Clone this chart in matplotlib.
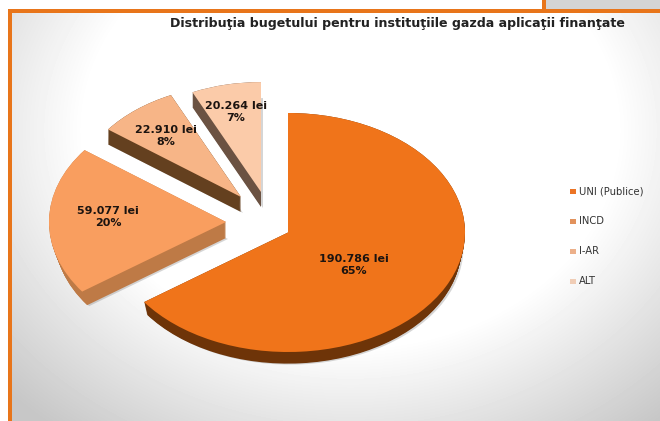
import numpy as np
import matplotlib
matplotlib.use("Agg")
import matplotlib.pyplot as plt
from matplotlib.patches import Rectangle
from matplotlib.transforms import Affine2D

W, H = 660, 421

# date
categories = ["UNI (Publice)", "INCD", "I-AR", "ALT"]
values = [190786, 59077, 22910, 20264]
value_labels = ["190.786 lei\n65%", "59.077 lei\n20%", "22.910 lei\n8%", "20.264 lei\n7%"]
title = "Distribuţia bugetului pentru instituţiile gazda aplicaţii finanţate"

# stil
top_colors = ["#F0741A", "#F99E5F", "#F7B587", "#FBCBA9"]
side_colors = ["#6E3408", "#BE7A46", "#64401F", "#6B5242"]
legend_colors = ["#EC7425", "#E2925C", "#ECB08A", "#F0CDB6"]
centers = [(288, 232.5), (226, 222), (241, 197), (261, 192)]
scales = [1.0, 1.0, 0.94, 0.92]
depths = [14, 16, 15, 15]
shrink = [0.02, 0.035, 0.0, 0.0]  # fata de jos e putin mai mica (perspectiva)
RX, RY = 177, 119.5
label_pos = [(354, 265), (108, 217), (166, 136), (236, 112)]
legend_y = [191, 221, 251, 281]


def background(ax):
    y, x = np.mgrid[0:H, 0:W]
    r = np.sqrt(((x - 350) / 370) ** 2 + ((y - 130) / 300) ** 2)
    g = 1 - 0.22 * np.clip((r - 0.72) / 0.55, 0, 1)
    ax.imshow(g, cmap="gray", vmin=0, vmax=1, extent=(0, W, H, 0), zorder=0, aspect="auto")
    # colturi alb / bara portocalie
    ax.add_patch(Rectangle((0, 0), W, 9, fc="white", ec="none", zorder=1))
    ax.add_patch(Rectangle((0, 0), 8, H, fc="white", ec="none", zorder=1))
    ax.add_patch(Rectangle((546, 0), W - 546, 9, fc="#D4D4D4", ec="none", zorder=1))
    ax.add_patch(Rectangle((542, 0), 4, 10, fc="#E8751A", ec="none", zorder=2))
    ax.add_patch(Rectangle((8, 9), W - 8, 3.5, fc="#E8751A", ec="none", zorder=2))
    ax.add_patch(Rectangle((8, 9), 4, H - 9, fc="#E8751A", ec="none", zorder=2))


def layer(ax, frac, colors, zorder, dx=0, extra=0, alpha=None):
    # frac = 0 fata de sus, 1 fata de jos
    wedges, _ = ax.pie(values, startangle=90, counterclock=False, colors=colors,
                       wedgeprops={"linewidth": 0, "alpha": alpha})
    for i, w in enumerate(wedges):
        cx, cy = centers[i]
        s = scales[i] * (1 - shrink[i] * frac)
        w.set_transform(Affine2D().scale(RX * s, -RY * s)
                        .translate(cx + dx, cy + depths[i] * frac + extra) + ax.transData)
        w.set_zorder(zorder)


def main():
    fig = plt.figure(figsize=(W / 100, H / 100), dpi=100)
    ax = fig.add_axes([0, 0, 1, 1])
    background(ax)

    # umbra
    layer(ax, 1, ["#777777"] * 4, 3, dx=2, extra=1, alpha=0.3)
    # grosimea feliilor
    for k in range(17):
        layer(ax, k / 16, side_colors, 4)
    layer(ax, 0, top_colors, 5)

    ax.set_xlim(0, W)
    ax.set_ylim(H, 0)
    ax.set_aspect("auto")
    ax.axis("off")

    for (x, y), txt in zip(label_pos, value_labels):
        ax.text(x, y, txt, ha="center", va="center", fontsize=8.0, fontweight="bold",
                color="#1c1410", linespacing=1.25, zorder=6)

    ax.text(397, 23, title, ha="center", va="center", fontsize=9.08, fontweight="bold",
            color="#222222", zorder=6)

    for name, c, y in zip(categories, legend_colors, legend_y):
        ax.add_patch(Rectangle((569.5, y - 2.5), 6, 5, fc=c, ec="none", zorder=6))
        ax.text(579, y, name, ha="left", va="center", fontsize=7.2, color="#333333", zorder=6)

    fig.savefig("out.png", dpi=100)
    plt.close(fig)


if __name__ == "__main__":
    main()
